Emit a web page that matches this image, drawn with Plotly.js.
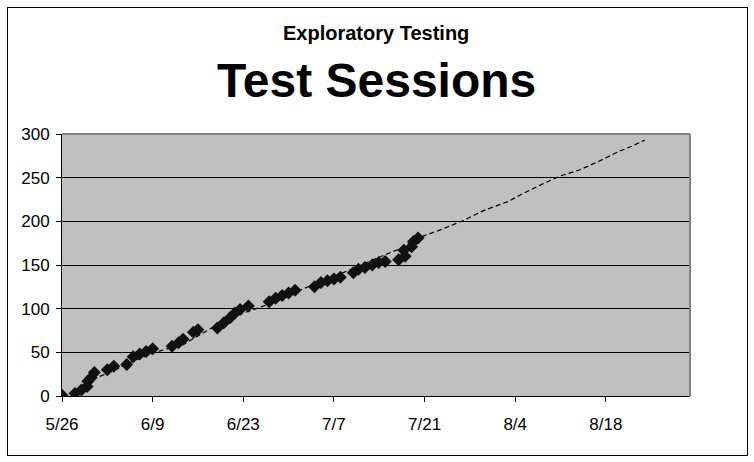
<!DOCTYPE html>
<html>
<head>
<meta charset="utf-8">
<script src="https://cdn.plot.ly/plotly-3.0.1.min.js"></script>
<style>
html,body{margin:0;padding:0;background:#fff;}
#wrap{position:relative;width:754px;height:462px;}
#chart{position:absolute;left:0;top:0;width:754px;height:462px;}
#frame{position:absolute;left:7px;top:7px;width:739px;height:447px;border:1px solid #000;pointer-events:none;}
</style>
</head>
<body>
<div id="wrap"><div id="chart"></div><div id="frame"></div></div>
<script>
// Actual cumulative test sessions
const sessionDates = [
  "2003-05-26","2003-05-28","2003-05-29","2003-05-29 21:00","2003-05-30","2003-05-30 12:00","2003-05-31",
  "2003-06-02","2003-06-03","2003-06-05","2003-06-06","2003-06-07","2003-06-08","2003-06-09",
  "2003-06-12","2003-06-13","2003-06-13 17:00","2003-06-15 07:00","2003-06-16","2003-06-19","2003-06-20",
  "2003-06-21","2003-06-21 17:00","2003-06-22 12:00","2003-06-23 19:00","2003-06-27","2003-06-28",
  "2003-06-29","2003-06-30","2003-07-01","2003-07-04","2003-07-05","2003-07-06","2003-07-07","2003-07-08",
  "2003-07-10","2003-07-10 19:00","2003-07-11 19:00","2003-07-12 22:00","2003-07-13 22:00","2003-07-14 22:00",
  "2003-07-17","2003-07-17 19:00","2003-07-18","2003-07-19","2003-07-19 07:00","2003-07-20"
];
const sessionCounts = [
  1,3,7,11,17,21,27,
  30,34,36,45,48,51,54,
  57,61,65,73,76,78,84,
  90,95,99,103,108,112,
  115,118,121,125,130,132,134,136,
  141,145,147,150,153,154,
  156,167,160,171,177,181
];
// Projected trend (dashed)
const trendDates = [
  "2003-05-28","2003-05-31","2003-06-03","2003-06-05","2003-06-09","2003-06-14","2003-06-17",
  "2003-06-21","2003-06-25","2003-06-28","2003-07-02","2003-07-09","2003-07-15","2003-07-17",
  "2003-07-20","2003-07-23","2003-07-27","2003-07-30","2003-08-03","2003-08-05","2003-08-08",
  "2003-08-11","2003-08-14","2003-08-17","2003-08-20","2003-08-22","2003-08-24"
];
const trendValues = [
  0,20,29,37,49,60,73,
  90,100,108,122,143,162,168,
  181,189,201,212,223,231,242,
  252,259,269,280,286,293
];
const xRange = ["2003-05-26","2003-08-31"];
const xTick0 = "2003-05-26";
const yTicks = [0,50,100,150,200,250,300];
const titleTop = "Exploratory Testing";
const titleMain = "Test Sessions";

const FONT = "Liberation Sans, Arial, sans-serif";

const traces = [
  {
    x: trendDates, y: trendValues, type: "scatter", mode: "lines",
    line: {color: "#000", width: 1.2, dash: "5px,3px"},
    hoverinfo: "skip", showlegend: false
  },
  {
    x: sessionDates, y: sessionCounts, type: "scatter", mode: "markers",
    marker: {symbol: "diamond", size: 10, color: "#111", line: {width: 0}},
    showlegend: false
  }
];

const layout = {
  width: 754, height: 462,
  margin: {l: 62, r: 64, t: 134, b: 65.5, pad: 0},
  paper_bgcolor: "#fff",
  plot_bgcolor: "#c0c0c0",
  font: {family: FONT, color: "#000", size: 17},
  showlegend: false,
  xaxis: {
    type: "date",
    range: xRange,
    tick0: xTick0,
    dtick: 14 * 86400000,
    tickformat: "%-m/%-d",
    showgrid: false,
    zeroline: false,
    showline: true, linecolor: "#000", linewidth: 1,
    ticks: "outside", ticklen: 5, tickcolor: "#000", tickwidth: 1,
    ticklabelstandoff: 8,
    tickfont: {family: FONT, size: 17, color: "#000"},
    fixedrange: true
  },
  yaxis: {
    range: [0, 300],
    tickvals: yTicks,
    showgrid: true, gridcolor: "#000", gridwidth: 1,
    zeroline: false,
    showline: true, linecolor: "#000", linewidth: 1,
    ticks: "outside", ticklen: 5, tickcolor: "#000", tickwidth: 1,
    ticklabelstandoff: 3,
    tickfont: {family: FONT, size: 17, color: "#000"},
    fixedrange: true
  },
  shapes: [
    {type: "line", xref: "paper", yref: "paper", x0: 0, x1: 1, y0: 1, y1: 1,
     line: {color: "#808080", width: 2}, layer: "above"},
    {type: "line", xref: "paper", yref: "paper", x0: 1, x1: 1, y0: 0, y1: 1,
     line: {color: "#808080", width: 2}, layer: "above"}
  ],
  annotations: [
    {text: "<b>" + titleTop + "</b>", xref: "paper", yref: "paper", x: 0.5, y: 1,
     yshift: 101, xanchor: "center", yanchor: "middle", showarrow: false,
     font: {family: FONT, size: 20, color: "#000"}},
    {text: "<b>" + titleMain + "</b>", xref: "paper", yref: "paper", x: 0.5, y: 1,
     yshift: 54, xanchor: "center", yanchor: "middle", showarrow: false,
     font: {family: FONT, size: 48, color: "#000"}}
  ]
};

Plotly.newPlot("chart", traces, layout, {displayModeBar: false, staticPlot: true});
</script>
</body>
</html>
